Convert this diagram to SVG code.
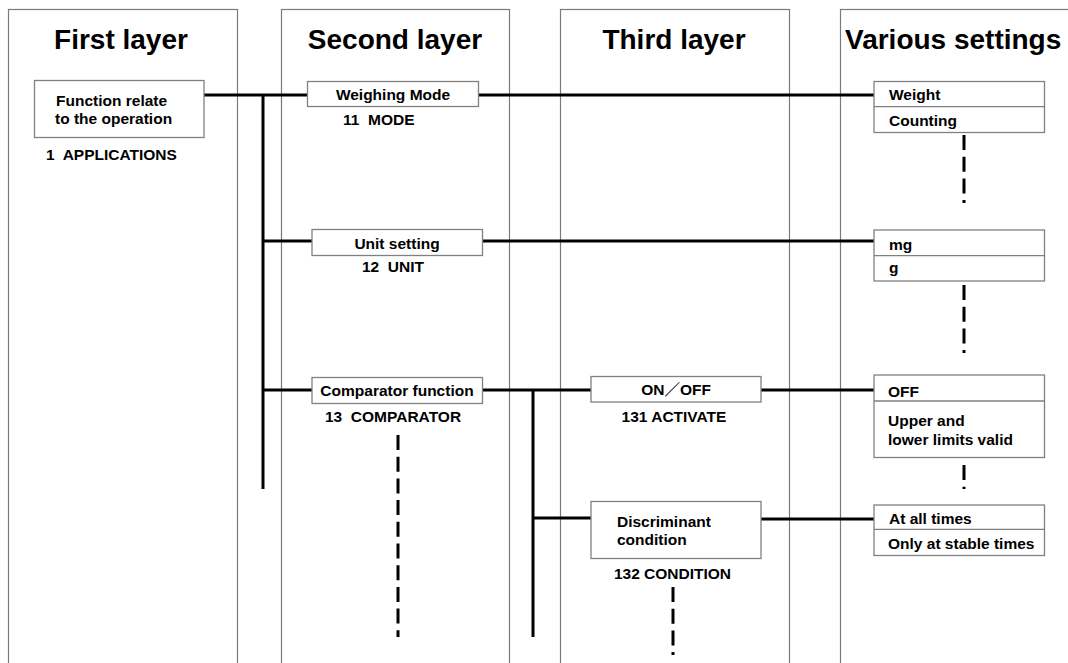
<svg xmlns="http://www.w3.org/2000/svg" width="1068" height="663" viewBox="0 0 1068 663">
<style>
.col{fill:none;stroke:#7a7a7a;stroke-width:1.2}
.box{fill:#fff;stroke:#808080;stroke-width:1.3}
.div{stroke:#808080;stroke-width:1.3}
.ln{stroke:#000;stroke-width:3;fill:none}
.dash{stroke:#000;stroke-width:3;fill:none;stroke-dasharray:15 6.7}
.h{font-family:"Liberation Sans",Arial,sans-serif;font-weight:bold;font-size:28px;fill:#000}
.t{font-family:"Liberation Sans","Noto Sans CJK JP",Arial,sans-serif;font-weight:bold;font-size:15.5px;fill:#000;white-space:pre}
.c{text-anchor:middle}
</style>
<rect width="1068" height="663" fill="#fff"/>
<g id="columns">
<rect class="col" x="8.5" y="9.5" width="229" height="700"/>
<rect class="col" x="281.5" y="9.5" width="228" height="700"/>
<rect class="col" x="560.5" y="9.5" width="229" height="700"/>
<rect class="col" x="840.5" y="9.5" width="260" height="700"/>
<text class="h c" x="121" y="49">First layer</text>
<text class="h c" x="395" y="49">Second layer</text>
<text class="h c" x="674" y="49">Third layer</text>
<text class="h" x="845" y="49">Various settings</text>
</g>
<g id="connectors">
<line class="ln" x1="204" y1="95" x2="308" y2="95"/>
<line class="ln" x1="478" y1="95" x2="874" y2="95"/>
<line class="ln" x1="263" y1="95" x2="263" y2="489"/>
<line class="ln" x1="263" y1="241" x2="312" y2="241"/>
<line class="ln" x1="482" y1="241" x2="874" y2="241"/>
<line class="ln" x1="263" y1="390" x2="312" y2="390"/>
<line class="ln" x1="482" y1="390" x2="591" y2="390"/>
<line class="ln" x1="761" y1="390" x2="874" y2="390"/>
<line class="ln" x1="533" y1="390" x2="533" y2="637"/>
<line class="ln" x1="533" y1="518" x2="591" y2="518"/>
<line class="ln" x1="761" y1="519" x2="874" y2="519"/>
<line class="dash" x1="964" y1="135" x2="964" y2="203"/>
<line class="dash" x1="964" y1="285" x2="964" y2="353"/>
<line class="dash" x1="964" y1="465" x2="964" y2="489"/>
<line class="dash" x1="398" y1="435" x2="398" y2="637"/>
<line class="dash" x1="673" y1="587" x2="673" y2="655"/>
</g>
<g id="n1">
<rect class="box" x="34.5" y="80.5" width="169.5" height="57"/>
<text class="t" x="56" y="106">Function relate</text>
<text class="t" x="55" y="123.5">to the operation</text>
<text class="t" x="46" y="160">1  APPLICATIONS</text>
</g>
<g id="n11">
<rect class="box" x="307.5" y="81.5" width="171" height="25"/>
<text class="t c" x="393" y="99.5">Weighing Mode</text>
<text class="t" x="343" y="125">11  MODE</text>
</g>
<g id="n12">
<rect class="box" x="312" y="229.5" width="170.5" height="26"/>
<text class="t c" x="397" y="248.5">Unit setting</text>
<text class="t" x="362" y="272">12  UNIT</text>
</g>
<g id="n13">
<rect class="box" x="312" y="377.5" width="170.5" height="26"/>
<text class="t c" x="397" y="396">Comparator function</text>
<text class="t" x="325" y="422">13  COMPARATOR</text>
</g>
<g id="n131">
<rect class="box" x="591" y="376.5" width="170" height="25.5"/>
<text class="t c" x="676" y="394.5">ON／OFF</text>
<text class="t c" x="674" y="422">131 ACTIVATE</text>
</g>
<g id="n132">
<rect class="box" x="591" y="501.5" width="170" height="57"/>
<text class="t" x="617" y="527">Discriminant</text>
<text class="t" x="617" y="545">condition</text>
<text class="t c" x="672.5" y="578.5">132 CONDITION</text>
</g>
<g id="s11">
<rect class="box" x="874" y="81.5" width="170.5" height="51"/>
<line class="div" x1="874" y1="106.7" x2="1044.5" y2="106.7"/>
<text class="t" x="889" y="100">Weight</text>
<text class="t" x="889" y="126">Counting</text>
</g>
<g id="s12">
<rect class="box" x="874" y="230" width="170.5" height="51"/>
<line class="div" x1="874" y1="255.7" x2="1044.5" y2="255.7"/>
<text class="t" x="889" y="249.5">mg</text>
<text class="t" x="889" y="273">g</text>
</g>
<g id="s131">
<rect class="box" x="874" y="375" width="170.5" height="82.5"/>
<line class="div" x1="874" y1="401" x2="1044.5" y2="401"/>
<text class="t" x="888" y="396.5">OFF</text>
<text class="t" x="888" y="426">Upper and</text>
<text class="t" x="888" y="444.5">lower limits valid</text>
</g>
<g id="s132">
<rect class="box" x="874" y="505" width="170.5" height="50.5"/>
<line class="div" x1="874" y1="529.3" x2="1044.5" y2="529.3"/>
<text class="t" x="889" y="523.5">At all times</text>
<text class="t" x="888" y="548.5">Only at stable times</text>
</g>
</svg>
